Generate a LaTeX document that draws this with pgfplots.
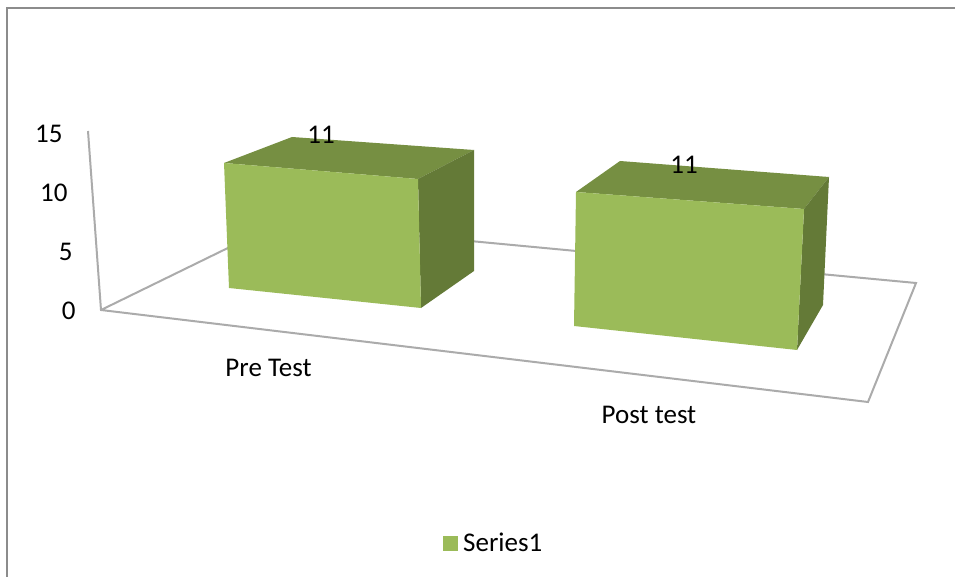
\documentclass[border=0pt]{standalone}
\usepackage{fontspec}
\setmainfont{Carlito}
\usepackage{pgfplots}
\pgfplotsset{compat=1.18}
\definecolor{barfront}{HTML}{9BBB59}
\definecolor{bartop}{HTML}{768F42}
\definecolor{barside}{HTML}{647A37}
\definecolor{gridgray}{HTML}{ABABAB}
\definecolor{framegray}{HTML}{8C8C8C}
\begin{document}
\begin{tikzpicture}[x=1pt,y=1pt]
  \path[use as bounding box] (0,0) rectangle (955pt,577pt);
  \begin{axis}
    [
	at={(0,0)}, anchor=south west,
	scale only axis,
	width=955pt, height=577pt,
	xmin=0, xmax=955,
	ymin=0, ymax=577,
	y dir=reverse,
	hide axis,
	clip=false,
	font=\fontsize{27}{31}\selectfont,
	% legend sits under the floor, no box around it
	legend style={draw=none, fill=none, at={(axis cs:443,543)}, anchor=west,
		inner sep=0pt, font=\fontsize{27}{31}\selectfont,
		legend cell align=left},
	legend image code/.code={
		\fill[barfront] (0pt,-7.5pt) rectangle (15pt,7.5pt);
		\path (18pt,0pt);
	},
    ]
	% Pre Test front face, owns the legend entry
	\addplot [draw=none, fill=barfront] coordinates {(224,163) (224,163)};
	\addlegendentry{Series1}

	% chart frame, only top and left show
	\addplot [framegray, line width=2pt, forget plot] coordinates {(7,577) (7,8) (955,8)};

	% floor and wall
	\addplot [gridgray, line width=2pt, forget plot] coordinates {(88,131) (101,310) (868,402) (916,283) (279,223) (101,310)};

	% Pre Test box
	\addplot [fill=bartop, draw=none, forget plot] coordinates {(224,163) (292,137) (474,150) (418,179)} --cycle;
	\addplot [fill=barside, draw=none, forget plot] coordinates {(418,179) (474,150) (474,271) (421,308)} --cycle;
	\addplot [fill=barfront, draw=none, forget plot] coordinates {(224,163) (418,179) (421,308) (229,288)} --cycle;

	% Post test box
	\addplot [fill=bartop, draw=none, forget plot] coordinates {(576,192) (620,161) (829,177) (804,209)} --cycle;
	\addplot [fill=barside, draw=none, forget plot] coordinates {(804,209) (829,177) (823,305) (797,350)} --cycle;
	\addplot [fill=barfront, draw=none, forget plot] coordinates {(576,192) (804,209) (797,350) (574,326)} --cycle;

	% value axis labels follow the slanted wall
	\node[anchor=east] at (axis cs:66,134) {15};
	\node[anchor=east] at (axis cs:71,193) {10};
	\node[anchor=east] at (axis cs:76,252) {5};
	\node[anchor=east] at (axis cs:79,311) {0};

	\node at (axis cs:321,135) {11};
	\node at (axis cs:684,165) {11};
	\node at (axis cs:268.5,368) {Pre Test};
	\node at (axis cs:649,415) {Post test};
  \end{axis}
\end{tikzpicture}
\end{document}
